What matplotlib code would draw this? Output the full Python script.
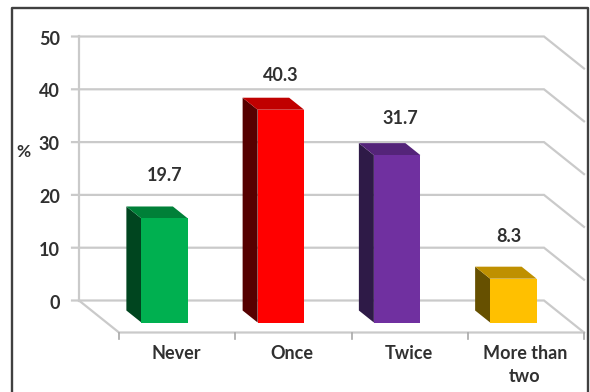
import numpy as np
import matplotlib
matplotlib.use("Agg")
import matplotlib.pyplot as plt
from matplotlib.lines import Line2D

### Data ###
categories = ["Never", "Once", "Twice", "More than\ntwo"]
values = [19.7, 40.3, 31.7, 8.3]
value_labels = ["19.7", "40.3", "31.7", "8.3"]
yticks = [0, 10, 20, 30, 40, 50]

front_colors = ["#00B050", "#FF0000", "#7030A0", "#FFC000"]
side_colors = ["#00451F", "#560000", "#2E1A47", "#665000"]
top_colors = ["#008038", "#C00000", "#542479", "#BF9000"]

### Layout ###
W, H = 590, 392
slot_px = 116.25          # width of one category [px]
unit_px = 5.28            # height of one percent [px]
x0_px, y0_px = 79, 300.5  # back corner of the floor [px]
depth_x = 40 / slot_px    # floor depth, in category units
depth_y = -32 / unit_px   # floor depth, in percent units
bar_width = 0.4
bar_back, bar_front = 10 / 32, 22 / 32

grid_color = "#CACACA"
text_color = "#303030"
font = ["Lato", "DejaVu Sans"]
fontsize = 13

# nudge of each value label above the bar, in percent and categories
label_dy = [6.2, 4.5, 4.9, 6.0]
label_dx = [0.0, 0.0, 0.03, -0.04]


def project(x, y, depth):
    # depth 0 is the back wall, depth 1 the front edge of the floor
    return x + depth * depth_x, y + depth * depth_y


def poly(ax, corners, color):
    pts = [project(*c) for c in corners]
    ax.fill([p[0] for p in pts], [p[1] for p in pts], color=color, lw=0, zorder=3)


fig = plt.figure(figsize=(W / 100, H / 100), dpi=100)
ax = fig.add_axes([0, 0, 1, 1])
ax.set_xlim(-x0_px / slot_px, (W - x0_px) / slot_px)
ax.set_ylim((y0_px - H) / unit_px, y0_px / unit_px)
ax.axis("off")

n = len(categories)

### Walls and floor ###
for yt in yticks:
    x1, y1 = project(n, yt, 1)
    ax.plot([-0.06, n, x1], [yt, yt, y1], color=grid_color, lw=1.6, zorder=1,
            solid_joinstyle="miter")
    ax.text(-0.165, yt - 0.2, str(yt), ha="right", va="center_baseline", fontsize=fontsize,
            fontweight="bold", family=font, color=text_color)
ax.plot([0, 0], [yticks[0], yticks[-1]], color=grid_color, lw=1.6, zorder=1)

fx, fy = project(0, 0, 1)
ax.plot([0, fx, fx + n], [0, fy, fy], color=grid_color, lw=1.6, zorder=1)
for i in range(n + 1):
    ax.plot([fx + i, fx + i], [fy, fy - 1.2], color="#A8A8A8", lw=1.2, zorder=1)

### Bars ###
for i in range(n):
    left = i + 0.5 - bar_width / 2
    right = i + 0.5 + bar_width / 2
    v = values[i]
    poly(ax, [(left, 0, bar_back), (left, 0, bar_front), (left, v, bar_front), (left, v, bar_back)],
         side_colors[i])
    poly(ax, [(left, v, bar_back), (right, v, bar_back), (right, v, bar_front), (left, v, bar_front)],
         top_colors[i])
    poly(ax, [(left, 0, bar_front), (right, 0, bar_front), (right, v, bar_front), (left, v, bar_front)],
         front_colors[i])

    lx, ly = project(i + 0.5 + label_dx[i], v, bar_back)
    ax.text(lx + (bar_front - bar_back) * depth_x, ly + label_dy[i], value_labels[i],
            ha="center", va="center_baseline", fontsize=fontsize, fontweight="bold",
            family=font, color=text_color)

    ax.text(fx + i + 0.49, fy - 2.3, categories[i], ha="center", va="top",
            fontsize=fontsize, fontweight="bold", family=font, color=text_color,
            linespacing=1.42)

ax.text(-0.475, 28.5, "%", ha="center", va="center_baseline", fontsize=fontsize - 0.5,
        fontweight="bold", family=font, color=text_color)

### Outer frame, open at the bottom ###
frame_x = np.array([12, 12, 588, 588]) / W
frame_y = 1 - np.array([H, 8, 8, H]) / H
fig.add_artist(Line2D(frame_x, frame_y, color="#404040", lw=1.7))

fig.savefig("out.png", dpi=100)
